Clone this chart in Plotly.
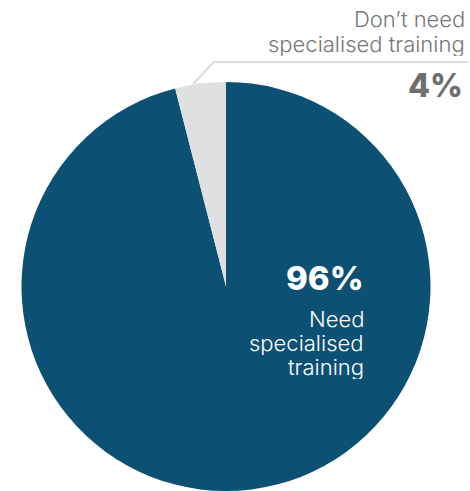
import plotly.graph_objects as go

# Share of respondents
labels = ["Need specialised training", "Don't need specialised training"]
values = [96, 4]
colors = ["#0c5073", "#e0e0e0"]

inner_lines = ["Need", "specialised", "training"]
outer_lines = ["Don’t need", "specialised training"]

W, H = 470, 491


def px(v):
    return v / W


def py(v):
    return 1 - v / H


fig = go.Figure(
    go.Pie(
        labels=labels,
        values=values,
        sort=False,
        direction="clockwise",
        rotation=0,
        marker=dict(colors=colors, line=dict(width=0)),
        textinfo="none",
        hoverinfo="label+percent",
        domain=dict(x=[px(21), px(431)], y=[0, py(82)]),
        showlegend=False,
    )
)

font = "Inter, 'Open Sans', sans-serif"


def label(x, y, text, size, color, weight, h):
    fig.add_annotation(
        x=px(x), y=py(y), xref="paper", yref="paper",
        text=text, showarrow=False, height=h,
        xanchor="right", yanchor="middle", align="right",
        font=dict(family=font, size=size, color=color, weight=weight),
    )


# Inside label for the large slice
label(366, 278, f"{values[0]}%", 33, "white", 800, 36)
for i, line in enumerate(inner_lines):
    label(366, 318.5 + 24 * i, line, 22, "white", 300, 24)

# Outside label for the small slice
for i, line in enumerate(outer_lines):
    label(467, 19 + 24.5 * i, line, 22, "#777777", 300, 24)
label(465, 85, f"{values[1]}%", 32, "#6e6e6e", 800, 34)

# Leader line from the small slice to its label
fig.add_shape(
    type="path", xref="paper", yref="paper",
    path=f"M {px(193)} {py(84)} L {px(214)} {py(62)} L {px(468)} {py(62)}",
    line=dict(color="#dcdcdc", width=2),
)

fig.update_layout(
    width=W, height=H,
    margin=dict(l=0, r=0, t=0, b=0),
    paper_bgcolor="white",
    plot_bgcolor="white",
)

fig.write_html("out.html")
